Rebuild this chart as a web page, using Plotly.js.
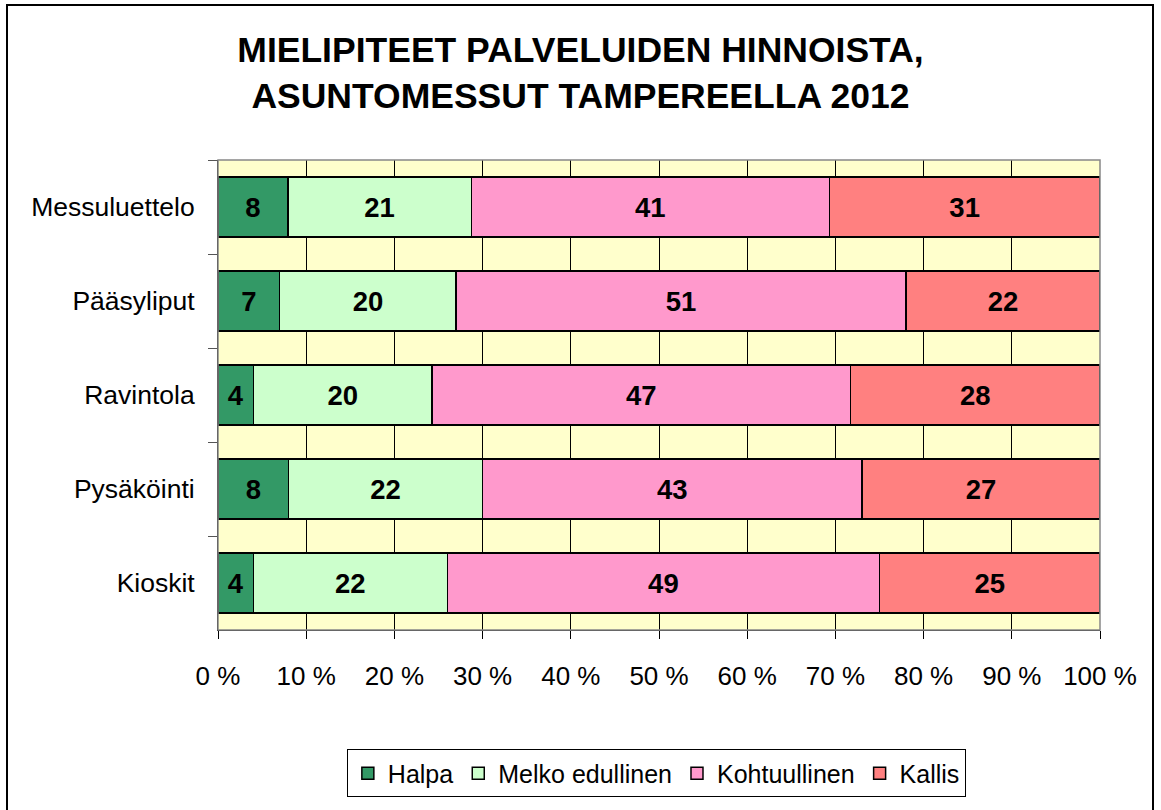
<!DOCTYPE html>
<html>
<head>
<meta charset="utf-8">
<script src="https://cdn.plot.ly/plotly-3.0.1.min.js"></script>
<style>
  html, body { margin: 0; padding: 0; background: #fff; overflow: hidden; }
  #wrap { position: relative; width: 1161px; height: 810px; }
  #chart { width: 1161px; height: 810px; }
  #frame { position: absolute; left: 6px; top: 4px; width: 1148px; height: 840px;
           border: 2px solid #000; pointer-events: none; box-sizing: border-box; }
</style>
</head>
<body>
<div id="wrap">
  <div id="chart"></div>
  <div id="frame"></div>
</div>
<script>
const categories = ["Messuluettelo", "Pääsyliput", "Ravintola", "Pysäköinti", "Kioskit"];
const seriesNames = ["Halpa", "Melko edullinen", "Kohtuullinen", "Kallis"];
const halpa = [8, 7, 4, 8, 4];
const melkoEdullinen = [21, 20, 20, 22, 22];
const kohtuullinen = [41, 51, 47, 43, 49];
const kallis = [31, 22, 28, 27, 25];
const xTickValues = [0, 10, 20, 30, 40, 50, 60, 70, 80, 90, 100];
const xTickLabels = ["0 %", "10 %", "20 %", "30 %", "40 %", "50 %", "60 %", "70 %", "80 %", "90 %", "100 %"];

const seriesValues = [halpa, melkoEdullinen, kohtuullinen, kallis];
const colors = ["#339966", "#CCFFCC", "#FF99CC", "#FF8080"];
const FONT = "Liberation Sans, Arial, sans-serif";

const traces = seriesNames.map((name, i) => ({
  type: "bar",
  orientation: "h",
  name: name,
  y: categories,
  x: seriesValues[i],
  text: seriesValues[i].map(String),
  textposition: "inside",
  insidetextanchor: "middle",
  constraintext: "none",
  textfont: { family: FONT, size: 27.5, color: "#000", weight: "bold" },
  marker: { color: colors[i], line: { color: "#000", width: 1.5 } },
  hoverinfo: "name+x"
}));

const layout = {
  width: 1161,
  height: 810,
  margin: { l: 218, r: 61, t: 160, b: 174 },
  paper_bgcolor: "#ffffff",
  plot_bgcolor: "#FFFFCC",
  barmode: "stack",
  barnorm: "percent",
  bargap: 0.36,
  font: { family: FONT, size: 25, color: "#000" },
  title: {
    text: "MIELIPITEET PALVELUIDEN HINNOISTA,<br>ASUNTOMESSUT TAMPEREELLA 2012",
    font: { family: FONT, size: 35.5, color: "#000", weight: "bold" },
    x: 0.5, xref: "container", xanchor: "center",
    y: 0.924, yref: "container", yanchor: "middle"
  },
  xaxis: {
    range: [0, 100],
    tickmode: "array",
    tickvals: xTickValues,
    ticktext: xTickLabels,
    showgrid: true,
    gridcolor: "#000",
    gridwidth: 1,
    zeroline: false,
    showline: true,
    linecolor: "#000",
    linewidth: 1,
    ticks: "outside",
    ticklen: 8,
    tickcolor: "#000",
    ticklabelstandoff: 15,
    tickfont: { family: FONT, size: 26, color: "#000" },
    fixedrange: true
  },
  yaxis: {
    type: "category",
    categoryorder: "array",
    categoryarray: categories,
    autorange: "reversed",
    showgrid: false,
    zeroline: false,
    showline: true,
    linecolor: "#000",
    linewidth: 1,
    ticks: "outside",
    tickson: "boundaries",
    ticklen: 9,
    tickcolor: "#555",
    ticklabelstandoff: 17,
    tickfont: { family: FONT, size: 26.5, color: "#000" },
    fixedrange: true
  },
  shapes: [{
    type: "rect", xref: "paper", yref: "paper",
    x0: 0, x1: 1, y0: 0, y1: 1,
    line: { color: "#888", width: 1.5 },
    layer: "above"
  }],
  legend: {
    orientation: "h",
    x: 0.497, xanchor: "center",
    y: -0.254, yanchor: "top",
    bordercolor: "#000",
    borderwidth: 1,
    bgcolor: "#fff",
    font: { family: FONT, size: 25, color: "#000" },
    traceorder: "normal",
    itemclick: false,
    itemdoubleclick: false
  },
  showlegend: true
};

Plotly.newPlot("chart", traces, layout, { displayModeBar: false, staticPlot: true });
</script>
</body>
</html>
